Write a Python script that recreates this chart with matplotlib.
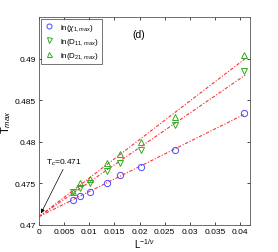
import numpy as np
import matplotlib
matplotlib.use('Agg')
import matplotlib.pyplot as plt

plt.rcParams['font.family'] = ['Liberation Sans', 'DejaVu Sans']
plt.rcParams['mathtext.fontset'] = 'custom'
plt.rcParams['mathtext.rm'] = 'Liberation Sans'
plt.rcParams['mathtext.it'] = 'Liberation Sans:italic'

# L^(-1/nu) values
x = [0.0068, 0.0081, 0.0101, 0.0135, 0.0162, 0.0203, 0.0271, 0.0408]
chi1 = [0.4730, 0.4735, 0.4740, 0.4750, 0.4760, 0.4770, 0.4790, 0.4835]
d11 = [0.4740, 0.4745, 0.4750, 0.4765, 0.4775, 0.4790, 0.4820, 0.4885]
d21 = [0.4740, 0.4750, 0.4755, 0.4775, 0.4785, 0.4800, 0.4830, 0.4905]
tc = 0.471

fig = plt.figure(figsize=(2.78, 2.53), dpi=100)
ax = fig.add_axes([0.14, 0.107, 0.76, 0.82])

xa = np.array(x)
xl = np.linspace(0, 0.041, 50)
for ys in [chi1, d11, d21]:
    ya = np.array(ys) - tc
    slope = np.sum(xa * ya) / np.sum(xa * xa)
    ax.plot(xl, tc + slope * xl, color='#ff3333', ls='-.', lw=0.8, dashes=(3, 1.5, 1, 1.5))

ax.plot(x, chi1, 'o', mfc='none', mec='#4a4aff', ms=4.5, mew=0.7, ls='none', label=r'ln($\chi_{1,max}$)')
ax.plot(x, d11, 'v', mfc='none', mec='#33aa22', ms=4.5, mew=0.7, ls='none', label=r'ln(D$_{11,max}$)')
ax.plot(x, d21, '^', mfc='none', mec='#33aa22', ms=4.5, mew=0.7, ls='none', label=r'ln(D$_{21,max}$)')

ax.set_xlim(0, 0.042)
ax.set_ylim(0.47, 0.495)
ax.set_xticks([0, 0.005, 0.01, 0.015, 0.02, 0.025, 0.03, 0.035, 0.04])
ax.set_xticklabels(['0', '0.005', '0.01', '0.015', '0.02', '0.025', '0.03', '0.035', '0.04'])
ax.set_yticks([0.47, 0.475, 0.48, 0.485, 0.49])
ax.set_yticklabels(['0.47', '0.475', '0.48', '0.485', '0.49'])
ax.tick_params(direction='in', top=True, right=True, labelsize=6, length=2.5, width=0.5, pad=2)
for s in ax.spines.values():
    s.set_linewidth(0.6)
    s.set_color('#555555')

ax.set_xlabel(r'L$^{-1/\nu}$', fontsize=7, labelpad=1)
ax.set_ylabel(r'T$_{max}$', fontsize=8)
ax.yaxis.set_label_coords(-0.125, 0.5)

ax.text(0.0185, 0.4927, '(d)', fontsize=7.5)
ax.text(0.0014, 0.4776, r'T$_c$=0.471', fontsize=6, ha='left', va='center')
ax.annotate('', xy=(0.0004, 0.4714), xytext=(0.0048, 0.4767),
            arrowprops=dict(arrowstyle='-|>', color='black', lw=0.5, mutation_scale=6,
                            shrinkA=0, shrinkB=0))

leg = ax.legend(loc='upper left', fontsize=5.8, frameon=True, fancybox=False,
                edgecolor='#333333', borderpad=0.4, handletextpad=0.6, handlelength=1.4,
                labelspacing=0.35, borderaxespad=0.2, markerscale=0.8)
leg.get_frame().set_linewidth(0.6)

fig.savefig('out.png', dpi=100)
